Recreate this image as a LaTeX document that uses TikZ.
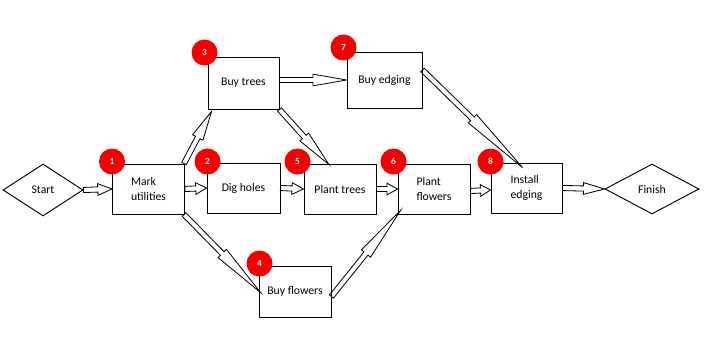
\documentclass[tikz,border=0pt]{standalone}
\usepackage{fontspec}
\setmainfont{Carlito}
\usetikzlibrary{calc,shapes.geometric}
\definecolor{badge}{HTML}{F50000}

\begin{document}
\begin{tikzpicture}[
   x=0.03cm, y=-0.03cm,
   font=\fontsize{10}{12.8}\selectfont,
   task/.style={draw, line width=0.8pt, align=left, inner sep=2pt,
                minimum width=2.16cm, minimum height=1.5cm},
   term/.style={draw, diamond, line width=0.8pt, inner sep=0pt},
   num/.style={circle, fill=badge, text=white, inner sep=0pt, minimum size=0.78cm,
               font=\fontsize{8}{8}\selectfont\bfseries},
   blk/.style={draw, line width=0.7pt, line join=miter, to path={
       ($(\tikztostart)!2.2pt!90:(\tikztotarget)$)
       -- ($($(\tikztostart)!0.5!(\tikztotarget)$)!2.2pt!-90:(\tikztostart)$)
       -- ($($(\tikztostart)!0.5!(\tikztotarget)$)!5pt!-90:(\tikztostart)$)
       -- (\tikztotarget)
       -- ($($(\tikztostart)!0.5!(\tikztotarget)$)!5pt!90:(\tikztostart)$)
       -- ($($(\tikztostart)!0.5!(\tikztotarget)$)!2.2pt!90:(\tikztostart)$)
       -- ($(\tikztostart)!2.2pt!-90:(\tikztotarget)$) -- cycle}},
]
  \useasboundingbox (0,0) rectangle (716,339);

  % start and finish
  \node[term, minimum width=2.4cm, minimum height=1.56cm] (start) at (43,190) {Start};
  \node[term, minimum width=2.82cm, minimum height=1.5cm] (fin) at (652,189) {Finish};

  % tasks
  \node[task] (mu) at (148.5,189) {Mark\\utilities};
  \node[task, minimum width=2.19cm] (dh) at (243.5,188) {Dig holes};
  \node[task, minimum width=2.13cm, minimum height=1.56cm] (bt) at (243.5,83) {Buy trees};
  \node[task, minimum width=2.25cm, minimum height=1.68cm] (be) at (384.5,80) {Buy edging};
  \node[task] (pt) at (340,189) {Plant trees};
  \node[task] (pf) at (434,189) {Plant\\flowers};
  \node[task, minimum width=2.13cm] (ie) at (526.5,188) {Install\\edging};
  \node[task, minimum height=1.53cm] (bf) at (295,291.5) {Buy flowers};

  % connectors
  \draw[blk] (start.east) to (mu.west);
  \draw[blk] (mu.east) to (dh.west);
  \draw[blk] ([shift={(-1,0)}]mu.north east) to ([shift={(4,2)}]bt.south west);
  \draw[blk] ([shift={(-1,0)}]mu.south east) to ([shift={(2,1)}]bf.west);
  \draw[blk] ([shift={(0,-3)}]bt.east) to (be.west);
  \draw[blk] (bt.south east) to ([shift={(-11,1)}]pt.north);
  \draw[blk] (dh.east) to (pt.west);
  \draw[blk] (pt.east) to (pf.west);
  \draw[blk] ([shift={(0,5)}]bf.east) to ([shift={(3,-4)}]pf.south west);
  \draw[blk] ([shift={(0,-10)}]be.east) to ([shift={(-4,5)}]ie.north);
  \draw[blk] ([shift={(0,2)}]pf.east) to ([shift={(0,2)}]ie.west);
  \draw[blk] (ie.east) to (fin.west);

  % step numbers
  \node[num] (n1) at ([shift={(0,-2)}]mu.north west) {1};
  \node[num] (n2) at ([shift={(1,-1)}]dh.north west) {2};
  \node[num] (n3) at ([shift={(-3,-4)}]bt.north west) {3};
  \node[num] (n4) at ([shift={(1,-2)}]bf.north west) {4};
  \node[num] (n5) at ([shift={(-6,-2)}]pt.north west) {5};
  \node[num] (n6) at ([shift={(-4,-2)}]pf.north west) {6};
  \node[num] (n7) at ([shift={(-3,-4)}]be.north west) {7};
  \node[num] (n8) at ([shift={(0,-1)}]ie.north west) {8};
\end{tikzpicture}
\end{document}
